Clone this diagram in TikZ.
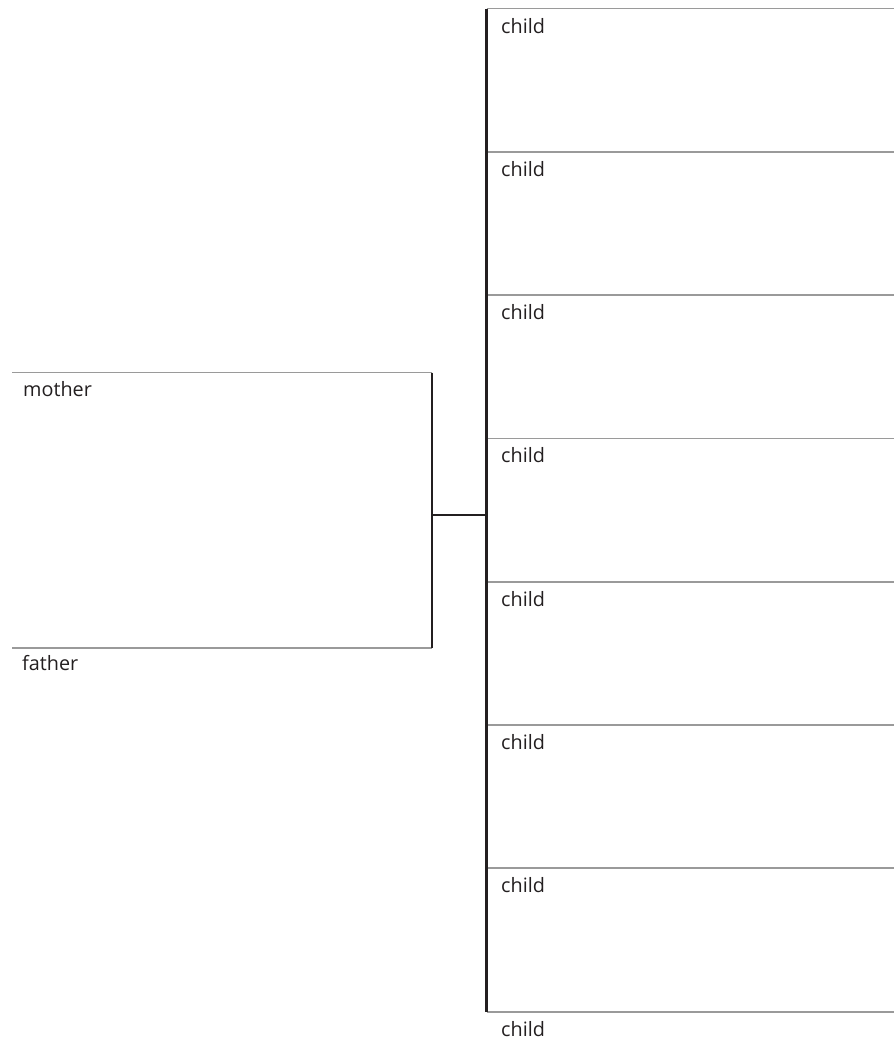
\documentclass[tikz,border=0pt]{standalone}
\usepackage{fontspec}
\setmainfont{Open Sans}
\definecolor{rulegrey}{HTML}{9A9A9A}
\definecolor{bardark}{HTML}{231F20}
\begin{document}
\begin{tikzpicture}[x=1pt,y=-1pt,
  rule/.style={draw=rulegrey, line width=1.8pt},
  bar/.style={draw=bardark, line width=2.7pt},
  lbl/.style={anchor=base west, inner sep=0pt, font=\fontsize{19.8}{24}\selectfont, text=bardark}]
\useasboundingbox (0,0) rectangle (894,1042);
% children
\foreach \i in {0,...,7} {
  \pgfmathsetmacro\yy{8.5+143.3*\i}
  \coordinate (c\i) at (486.5,\yy);
  \coordinate (ce\i) at (894,\yy);
  \draw[rule] (c\i) -- (ce\i);
  \node[lbl] (t\i) at (501,\yy+24.5) {child};
}
\draw[bar] (c0) -- (c7);
% parents
\coordinate (ml) at (12,372.5);
\coordinate (mr) at (432,372.5);
\coordinate (fl) at (12,648);
\coordinate (fr) at (432,648);
\draw[rule] (ml) -- (mr);
\draw[rule] (fl) -- (fr);
\node[lbl] (mother) at (23,396.5) {mother};
\node[lbl] (father) at (22,670.5) {father};
\draw[bar] (mr) -- (fr);
\coordinate (pj) at (432,515);
\coordinate (cj) at (486.5,515);
\draw[bar] (pj) -- (cj);
\end{tikzpicture}
\end{document}
